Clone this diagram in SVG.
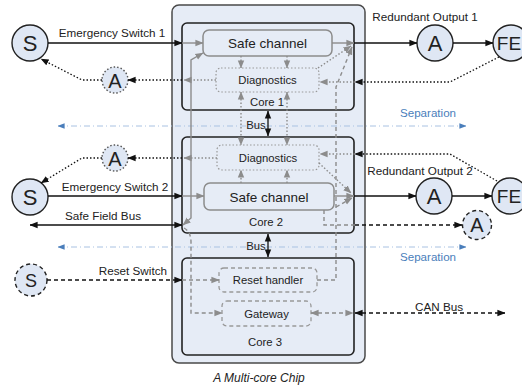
<svg xmlns="http://www.w3.org/2000/svg" width="522" height="387" viewBox="0 0 522 387">
<defs>
<style>
text{font-family:"Liberation Sans",Arial,sans-serif;fill:#222}
.lbl{font-size:11.7px}
.big{font-size:13.5px}
.sm{font-size:11.3px}
.node{font-size:22px}
.chip{fill:#e6ecf6;stroke:#4a4a4a;stroke-width:1.5}
.core{fill:#e6ecf6;stroke:#222;stroke-width:1.6}
.box{fill:#e6ecf6;stroke:#8c8c8c;stroke-width:1.5}
.diag{fill:none;stroke:#999;stroke-width:1.2;stroke-dasharray:1.5 2}
.dbox{fill:none;stroke:#999;stroke-width:1.3;stroke-dasharray:4 3}
.circ{fill:#dfe7f4;stroke:#222;stroke-width:1.4}
.bk{fill:none;stroke:#111;stroke-width:1.3}
.gr{fill:none;stroke:#8c8c8c;stroke-width:1.4}
.dot{stroke-dasharray:1.5 2}
.dash{stroke-dasharray:4 3}
.sep{fill:none;stroke:#a9c2e2;stroke-width:1;stroke-dasharray:6 3 1 3}
.blue{fill:#4a7ebb;font-size:11.6px}
.fe{font-size:19px}
</style>
<marker id="ab" viewBox="0 0 10 10" refX="9.5" refY="5" markerWidth="8" markerHeight="8" markerUnits="userSpaceOnUse" orient="auto-start-reverse"><path d="M0,1 L10,5 L0,9 z" fill="#111"/></marker>
<marker id="ag" viewBox="0 0 10 10" refX="9.5" refY="5" markerWidth="8" markerHeight="8" markerUnits="userSpaceOnUse" orient="auto-start-reverse"><path d="M0,1 L10,5 L0,9 z" fill="#8c8c8c"/></marker>
<marker id="al" viewBox="0 0 10 10" refX="9.5" refY="5" markerWidth="7" markerHeight="7" markerUnits="userSpaceOnUse" orient="auto-start-reverse"><path d="M0,1 L10,5 L0,9 z" fill="#4a7ebb"/></marker>
</defs>

<g id="chip">
<rect class="chip" x="172" y="5" width="193" height="358" rx="7"/>
<text x="259" y="382" text-anchor="middle" style="font-size:12px;font-style:italic">A Multi-core Chip</text>
</g>

<g id="separations">
<path class="sep" d="M58,126 H466" marker-start="url(#al)" marker-end="url(#al)"/>
<path class="sep" d="M58,247 H466" marker-start="url(#al)" marker-end="url(#al)"/>
<text class="blue" x="428" y="117" text-anchor="middle">Separation</text>
<text class="blue" x="428" y="261" text-anchor="middle">Separation</text>
</g>

<g id="core1">
<rect class="core" x="182" y="23" width="172" height="87" rx="5"/>
<text class="sm" x="267" y="106" text-anchor="middle">Core 1</text>
</g>
<g id="core2">
<rect class="core" x="182" y="137" width="172" height="96" rx="5"/>
<text class="sm" x="266" y="226" text-anchor="middle">Core 2</text>
</g>
<g id="core3">
<rect class="core" x="182" y="258" width="172" height="97" rx="5"/>
<text class="sm" x="265" y="346" text-anchor="middle">Core 3</text>
</g>

<g id="safe1">
<rect class="box" x="203" y="30" width="129" height="26" rx="6"/>
<text class="big" x="267.5" y="48" text-anchor="middle">Safe channel</text>
</g>
<g id="diag1">
<rect class="diag" x="216" y="68" width="103" height="24" rx="5"/>
<text class="sm" x="267.5" y="84" text-anchor="middle">Diagnostics</text>
</g>
<g id="diag2">
<rect class="diag" x="217" y="145" width="102" height="25" rx="5"/>
<text class="sm" x="268" y="161.5" text-anchor="middle">Diagnostics</text>
</g>
<g id="safe2">
<rect class="box" x="204" y="183" width="130" height="27" rx="6"/>
<text class="big" x="269" y="201.5" text-anchor="middle">Safe channel</text>
</g>
<g id="reset">
<rect class="dbox" x="219" y="268" width="98" height="24" rx="5"/>
<text class="sm" x="268" y="284" text-anchor="middle">Reset handler</text>
</g>
<g id="gateway">
<rect class="dbox" x="222" y="301" width="89" height="25" rx="5"/>
<text class="sm" x="266.5" y="317.5" text-anchor="middle">Gateway</text>
</g>

<g id="s1"><circle class="circ" cx="30" cy="43" r="18"/><text class="node" x="30" y="51" text-anchor="middle">S</text></g>
<g id="a1dot"><circle class="circ dot" cx="115" cy="80" r="13" style="stroke:#555"/><text x="115" y="87.5" text-anchor="middle" style="font-size:20px">A</text></g>
<g id="s2"><circle class="circ" cx="30" cy="197" r="18"/><text class="node" x="30" y="205" text-anchor="middle">S</text></g>
<g id="a2dot"><circle class="circ dot" cx="115" cy="158" r="13" style="stroke:#555"/><text x="115" y="165.5" text-anchor="middle" style="font-size:20px">A</text></g>
<g id="s3"><circle class="circ dash" cx="31" cy="280" r="16"/><text x="31" y="286.5" text-anchor="middle" style="font-size:18px">S</text></g>
<g id="a1"><circle class="circ" cx="435" cy="43" r="18"/><text class="node" x="435" y="51" text-anchor="middle">A</text></g>
<g id="fe1"><circle class="circ" cx="511" cy="43" r="18"/><text class="fe" x="509" y="50" text-anchor="middle">FE</text></g>
<g id="a2"><circle class="circ" cx="434" cy="196" r="18"/><text class="node" x="434" y="204" text-anchor="middle">A</text></g>
<g id="fe2"><circle class="circ" cx="510" cy="196" r="18"/><text class="fe" x="509" y="203" text-anchor="middle">FE</text></g>
<g id="a3"><circle class="circ dash" cx="477" cy="225" r="14.5"/><text x="477" y="232" text-anchor="middle" style="font-size:20px">A</text></g>

<g id="connectors">
<path class="bk" d="M48,43 H182" marker-end="url(#ab)"/>
<path class="bk" d="M48,196 H182" marker-end="url(#ab)"/>
<path class="bk" d="M30,225 H182" marker-start="url(#ab)" marker-end="url(#ab)"/>
<path class="bk dash" d="M47,280 H182" marker-end="url(#ab)"/>
<path class="bk" d="M354,43 H417" marker-end="url(#ab)"/>
<path class="bk" d="M453,43 H493" marker-end="url(#ab)"/>
<path class="bk" d="M354,196 H416" marker-end="url(#ab)"/>
<path class="bk" d="M452,196 H492" marker-end="url(#ab)"/>
<path class="bk dash" d="M355,225 H462" marker-end="url(#ab)"/>
<path class="bk dash" d="M355,313 H505" marker-start="url(#ab)" marker-end="url(#ab)"/>
<path class="bk" d="M268,111 V136" marker-start="url(#ab)" marker-end="url(#ab)"/>
<path class="bk" d="M268,234 V257" marker-start="url(#ab)" marker-end="url(#ab)"/>
<path class="bk dot" d="M182,80 H128" marker-end="url(#ab)"/>
<path class="bk dot" d="M102,80 H82 L41,59" marker-end="url(#ab)"/>
<path class="bk dot" d="M182,158 H128" marker-end="url(#ab)"/>
<path class="bk dot" d="M102,158 H82 L41,183" marker-end="url(#ab)"/>
<path class="bk dot" d="M499,57 L450,82 H355" marker-end="url(#ab)"/>
<path class="bk dot" d="M497,181 L450,154 H355" marker-end="url(#ab)"/>
<path class="gr" d="M182,43 H203" marker-end="url(#ag)"/>
<path class="gr" d="M332,43 H354" marker-end="url(#ag)"/>
<path class="gr" d="M182,196 H204" marker-end="url(#ag)"/>
<path class="gr" d="M334,196 H354" marker-end="url(#ag)"/>
<path class="gr dot" d="M216,80 H184" marker-end="url(#ag)"/>
<path class="gr dot" d="M355,82 H320" marker-end="url(#ag)"/>
<path class="gr dot" d="M217,158 H184" marker-end="url(#ag)"/>
<path class="gr dot" d="M355,154 H320" marker-end="url(#ag)"/>
<path class="gr dot" d="M241,56 V68" marker-end="url(#ag)"/>
<path class="gr dot" d="M287,56 V68" marker-end="url(#ag)"/>
<path class="gr dot" d="M241,92 V145" marker-start="url(#ag)" marker-end="url(#ag)"/>
<path class="gr dot" d="M287,92 V145" marker-start="url(#ag)" marker-end="url(#ag)"/>
<path class="gr dot" d="M241,183 V170" marker-end="url(#ag)"/>
<path class="gr dot" d="M287,183 V170" marker-end="url(#ag)"/>
<path class="gr dot" d="M318,68 L351,46" marker-end="url(#ag)"/>
<path class="gr dot" d="M319,163 L351,193" marker-end="url(#ag)"/>
<path class="gr" d="M183,225 L191,218 V60 L203,53" marker-start="url(#ag)" marker-end="url(#ag)"/>
<path class="gr dash" d="M184,228 Q191,232 191,242 V313 H222" marker-end="url(#ag)"/>
<path class="gr dash" d="M182,280 H219" marker-end="url(#ag)"/>
<path class="gr dash" d="M317,280 H336 V87 L352,47" marker-end="url(#ag)"/>
<path class="gr dash" d="M336,207 L352,198" marker-end="url(#ag)"/>
<path class="gr dash" d="M324,210 V225 H355"/>
<path class="gr dash" d="M311,313 H353" marker-start="url(#ag)" marker-end="url(#ag)"/>
</g>

<g id="labels">
<text class="lbl" x="112" y="37" text-anchor="middle">Emergency Switch 1</text>
<text class="lbl" x="115" y="191" text-anchor="middle">Emergency Switch 2</text>
<text class="lbl" x="103" y="220" text-anchor="middle">Safe Field Bus</text>
<text class="lbl" x="167" y="275" text-anchor="end">Reset Switch</text>
<text class="lbl" x="425" y="21" text-anchor="middle">Redundant Output 1</text>
<text class="lbl" x="420" y="175" text-anchor="middle">Redundant Output 2</text>
<text class="lbl" x="439" y="311" text-anchor="middle">CAN Bus</text>
<text class="sm" x="256" y="129" text-anchor="middle">Bus</text>
<text class="sm" x="256" y="250" text-anchor="middle">Bus</text>
</g>
</svg>
